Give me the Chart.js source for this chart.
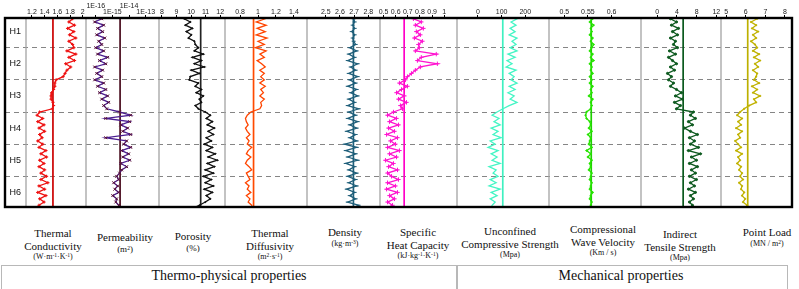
<!DOCTYPE html>
<html>
<head>
<meta charset="utf-8">
<script src="https://cdn.jsdelivr.net/npm/chart.js@4.4.0/dist/chart.umd.min.js"></script>
<style>
  body { margin: 0; background: #fff; }
  #wrap { position: relative; width: 799px; height: 289px; overflow: hidden; background: #fff; }
  #logs { position: absolute; left: 0; top: 0; }
  .lbl { position: absolute; transform: translateX(-50%); text-align: center; white-space: nowrap;
         font-family: 'Liberation Serif', 'Times New Roman', serif; font-size: 11px; line-height: 12.5px; color: #111; }
  .lbl .u { font-size: 8px; line-height: 10px; display: block; }
  .lbl sup { font-size: 5.5px; vertical-align: 2px; line-height: 0; }
  .box { position: absolute; top: 265px; height: 23px; border: 1px solid #b8b8b8; }
  .group { position: absolute; top: 268px; transform: translateX(-50%); white-space: nowrap;
           font-family: 'Liberation Serif', 'Times New Roman', serif; font-size: 14px; color: #111; }
</style>
</head>
<body>
<div id="wrap">
  <canvas id="logs" width="799" height="212"></canvas>

  <div class="lbl" style="left:53px;top:227px">Thermal<br>Conductivity<span class="u">(W·m<sup>-1</sup>·K<sup>-1</sup>)</span></div>
  <div class="lbl" style="left:125px;top:231px">Permeability<span class="u" style="font-size:9px">(m<sup>2</sup>)</span></div>
  <div class="lbl" style="left:193px;top:230px">Porosity<span class="u" style="font-size:9px">(%)</span></div>
  <div class="lbl" style="left:270px;top:227px">Thermal<br>Diffusivity<span class="u">(m<sup>2</sup>·s<sup>-1</sup>)</span></div>
  <div class="lbl" style="left:345px;top:226px">Density<span class="u">(kg·m<sup>-3</sup>)</span></div>
  <div class="lbl" style="left:418px;top:226px">Specific<br>Heat Capacity<span class="u">(kJ·kg<sup>-1</sup>·K<sup>-1</sup>)</span></div>
  <div class="lbl" style="left:510px;top:225px">Unconfined<br>Compressive Strength<span class="u">(Mpa)</span></div>
  <div class="lbl" style="left:603px;top:223px">Compressional<br>Wave Velocity<span class="u">(Km / s)</span></div>
  <div class="lbl" style="left:680px;top:228px">Indirect<br>Tensile Strength<span class="u">(Mpa)</span></div>
  <div class="lbl" style="left:767px;top:226px">Point Load<span class="u">(MN / m<sup>2</sup>)</span></div>

  <div class="box" style="left:1px;width:455px"></div>
  <div class="box" style="left:456px;width:330px"></div>
  <div class="group" style="left:229px">Thermo-physical properties</div>
  <div class="group" style="left:621px">Mechanical properties</div>
</div>

<script>
// depth of each sample (0 = top of H1, 6 = bottom of H6)
const DEPTH = [0.0, 0.1, 0.2, 0.3, 0.4, 0.5, 0.6, 0.7, 0.8, 0.9,
  1.0, 1.1, 1.2, 1.3, 1.4, 1.5, 1.6, 1.7, 1.8, 1.9,
  2.0, 2.1, 2.2, 2.3, 2.4, 2.5, 2.6, 2.7, 2.8, 2.9,
  3.0, 3.1, 3.2, 3.3, 3.4, 3.5, 3.6, 3.7, 3.8, 3.9,
  4.0, 4.1, 4.2, 4.3, 4.4, 4.5, 4.6, 4.7, 4.8, 4.9,
  5.0, 5.1, 5.2, 5.3, 5.4, 5.5, 5.6, 5.7, 5.8, 5.9, 6.0];
const ROW_LABELS = ['H1', 'H2', 'H3', 'H4', 'H5', 'H6'];
const ROW_EDGES = [1, 2, 3, 4, 5];

const THERMAL_CONDUCTIVITY = [1.81, 1.84, 1.78, 1.87, 1.76, 1.86, 1.79, 1.89, 1.78, 1.84,
  1.86, 1.75, 1.89, 1.78, 1.87, 1.73, 1.81, 1.75, 1.72, 1.69,
  1.58, 1.56, 1.56, 1.54, 1.51, 1.50, 1.50, 1.53, 1.54, 1.52,
  1.32, 1.28, 1.37, 1.29, 1.39, 1.31, 1.40, 1.32, 1.36, 1.29,
  1.37, 1.31, 1.42, 1.34, 1.43, 1.32, 1.39, 1.31, 1.40, 1.34,
  1.43, 1.34, 1.45, 1.31, 1.40, 1.29, 1.42, 1.32, 1.39, 1.31, 1.32];
const PERMEABILITY = [1.0e-16, 2.3e-16, 8.7e-17, 3.0e-16, 1.3e-16, 2.6e-16, 1.15e-16, 3.5e-16, 1.5e-16, 2.3e-16,
  1.0e-16, 3.0e-16, 1.3e-16, 5.2e-16, 1.7e-16, 4.0e-16, 8.7e-17, 2.6e-16, 1.15e-16, 2.3e-16,
  8.7e-17, 3.0e-16, 1.3e-16, 4.0e-16, 1.7e-16, 5.2e-16, 2.3e-16, 6.0e-16, 3.0e-16, 4.6e-16,
  2.7e-15, 1.26e-14, 4.0e-16, 1.1e-14, 3.2e-15, 8.3e-15, 4.2e-15, 1.26e-14, 4.0e-16, 7.2e-15,
  4.8e-15, 1.26e-14, 3.6e-15, 9.5e-15, 4.2e-15, 1.1e-14, 3.2e-15, 7.2e-15, 3.6e-15, 2.7e-15,
  1.8e-15, 2.4e-15, 1.2e-15, 2.1e-15, 1.4e-15, 2.4e-15, 1.05e-15, 1.8e-15, 1.6e-15, 2.4e-15, 2.4e-15];
const POROSITY = [9.75, 9.54, 9.95, 9.61, 10.09, 9.68, 10.02, 9.82, 10.23, 10.29,
  10.50, 10.23, 10.84, 10.09, 10.71, 10.23, 10.91, 10.02, 10.57, 9.95,
  9.88, 10.50, 10.29, 10.71, 10.36, 10.84, 10.57, 10.71, 10.29, 10.50,
  10.98, 11.32, 11.05, 11.46, 11.12, 11.60, 11.18, 11.53, 11.05, 11.39,
  10.91, 11.46, 11.05, 11.66, 11.18, 11.80, 11.12, 11.60, 10.98, 11.53,
  10.84, 11.39, 10.98, 11.53, 10.91, 11.46, 11.05, 11.32, 10.98, 10.57, 10.09];
const THERMAL_DIFFUSIVITY = [1.00, 1.08, 0.98, 1.09, 0.99, 1.08, 0.98, 1.10, 1.00, 1.07,
  0.97, 1.09, 1.02, 1.07, 0.99, 1.04, 1.08, 1.02, 1.07, 1.03,
  1.07, 1.02, 1.08, 1.03, 1.06, 1.02, 1.07, 1.03, 1.04, 1.02,
  0.92, 0.88, 0.86, 0.87, 0.89, 0.86, 0.88, 0.91, 0.87, 0.90,
  0.88, 0.93, 0.89, 0.87, 0.92, 0.88, 0.86, 0.90, 0.93, 0.87,
  0.89, 0.91, 0.86, 0.90, 0.88, 0.92, 0.87, 0.91, 0.89, 0.93, 0.93];
const DENSITY = [2.613, 2.697, 2.704, 2.690, 2.704, 2.683, 2.704, 2.690, 2.697, 2.711,
  2.669, 2.718, 2.662, 2.704, 2.655, 2.725, 2.676, 2.711, 2.662, 2.725,
  2.669, 2.711, 2.655, 2.718, 2.676, 2.725, 2.662, 2.704, 2.655, 2.732,
  2.662, 2.711, 2.655, 2.725, 2.669, 2.718, 2.648, 2.711, 2.669, 2.718,
  2.634, 2.718, 2.641, 2.711, 2.655, 2.725, 2.641, 2.704, 2.662, 2.718,
  2.655, 2.711, 2.662, 2.718, 2.648, 2.704, 2.669, 2.711, 2.655, 2.732, 2.697];
const SPECIFIC_HEAT = [0.779, 0.746, 0.811, 0.762, 0.828, 0.770, 0.803, 0.754, 0.820, 0.787,
  0.795, 0.762, 0.934, 0.811, 0.779, 0.943, 0.803, 0.762, 0.730, 0.697,
  0.680, 0.631, 0.697, 0.648, 0.607, 0.672, 0.623, 0.689, 0.639, 0.656,
  0.582, 0.533, 0.607, 0.549, 0.623, 0.541, 0.590, 0.525, 0.615, 0.557,
  0.598, 0.533, 0.631, 0.549, 0.607, 0.516, 0.582, 0.541, 0.615, 0.533,
  0.566, 0.623, 0.533, 0.598, 0.525, 0.615, 0.549, 0.590, 0.533, 0.574, 0.541];
const UCS = [153, 165, 140, 161, 136, 157, 132, 165, 144, 161,
  136, 165, 127, 157, 123, 144, 119, 161, 132, 153,
  140, 165, 132, 157, 127, 153, 136, 165, 132, 106,
  81, 60, 89, 68, 94, 56, 85, 64, 98, 52,
  73, 43, 85, 56, 81, 60, 94, 47, 77, 64,
  85, 52, 77, 47, 94, 56, 81, 52, 73, 60, 56];
const WAVE_VELOCITY = [0.556, 0.560, 0.554, 0.562, 0.556, 0.558, 0.554, 0.560, 0.556, 0.562,
  0.558, 0.554, 0.560, 0.556, 0.562, 0.554, 0.558, 0.556, 0.560, 0.554,
  0.558, 0.554, 0.560, 0.556, 0.558, 0.552, 0.560, 0.556, 0.558, 0.556,
  0.547, 0.545, 0.547, 0.554, 0.556, 0.552, 0.558, 0.550, 0.556, 0.554,
  0.552, 0.558, 0.547, 0.556, 0.550, 0.558, 0.554, 0.556, 0.552, 0.558,
  0.556, 0.554, 0.558, 0.556, 0.554, 0.560, 0.556, 0.554, 0.558, 0.556, 0.558];
const TENSILE_STRENGTH = [3.30, 2.69, 3.91, 2.89, 4.31, 3.10, 4.11, 2.69, 3.70, 3.30,
  4.11, 2.49, 3.70, 2.29, 3.10, 3.91, 2.69, 3.50, 2.09, 2.89,
  2.29, 3.30, 2.69, 3.91, 4.92, 3.70, 5.12, 3.50, 4.72, 3.91,
  7.35, 6.74, 7.75, 6.34, 7.15, 5.53, 6.74, 8.16, 6.54, 7.55,
  6.74, 8.36, 6.34, 8.77, 6.94, 7.96, 6.54, 8.16, 6.94, 7.75,
  6.54, 7.96, 6.74, 7.55, 6.34, 7.75, 6.74, 7.35, 6.54, 7.15, 6.74];
const POINT_LOAD = [6.37, 6.58, 6.27, 6.53, 6.32, 6.63, 6.37, 6.53, 6.27, 6.47,
  6.58, 6.37, 6.68, 6.42, 6.73, 6.47, 6.63, 6.37, 6.58, 6.53,
  6.42, 6.68, 6.32, 6.58, 6.37, 6.73, 6.42, 6.53, 6.17, 5.92,
  5.71, 5.56, 5.81, 5.61, 5.76, 5.51, 5.81, 5.61, 5.71, 5.46,
  5.61, 5.76, 5.51, 5.81, 5.61, 5.71, 5.56, 5.76, 5.66, 5.81,
  5.71, 5.86, 5.66, 5.81, 5.76, 5.92, 5.81, 5.97, 5.86, 6.07, 5.92];

// average of each log (the straight vertical line)
const MEANS = [1.53, 2.9e-15, 10.66, 0.95, 2.695, 0.67, 105, 0.557, 5.26, 6.10];

const TICKS_TC = [1.2, 1.4, 1.6, 1.8, 2];
const TICKS_PERM = [1e-16, 1e-15, 1e-14, 1e-13];
const TICKS_POR = [8, 9, 10, 11, 12];
const TICKS_TD = [0.8, 1, 1.2, 1.4];
const TICKS_DEN = [2.5, 2.6, 2.7, 2.8];
const TICKS_SHC = [0.5, 0.6, 0.7, 0.8, 0.9, 1];
const TICKS_UCS = [0, 100, 200];
const TICKS_CWV = [0.5, 0.55, 0.6];
const TICKS_ITS = [0, 4, 8, 12];
const TICKS_PL = [5, 6, 7, 8];

const PANELS = [
  { id: 'xTC',   values: THERMAL_CONDUCTIVITY, ticks: TICKS_TC,   min: 1.1,    max: 2.05,   w: 60.6, color: '#ee1111', mean: '#cc0000', pt: 'cross', r: 1.6 },
  { id: 'xPERM', values: PERMEABILITY,         ticks: TICKS_PERM, min: 2.6e-17, max: 6.4e-13, w: 73.4, color: '#4b1d8f', mean: '#4a0d1e', pt: 'crossRot', r: 2, ptColor: '#5a1030', log: true },
  { id: 'xPOR',  values: POROSITY,             ticks: TICKS_POR,  min: 7.81,   max: 12.36,  w: 66.6, color: '#111111', mean: '#222222', pt: 'circle', r: 0.6 },
  { id: 'xTD',   values: THERMAL_DIFFUSIVITY,  ticks: TICKS_TD,   min: 0.637,  max: 1.544,  w: 81.7, color: '#ff4500', mean: '#ff4a00', pt: 'circle', r: 0 },
  { id: 'xDEN',  values: DENSITY,              ticks: TICKS_DEN,  min: 2.366,  max: 2.882,  w: 73.3, color: '#1f5f7a', mean: '#1f5f7a', pt: 'line', r: 2 },
  { id: 'xSHC',  values: SPECIFIC_HEAT,        ticks: TICKS_SHC,  min: 0.47,   max: 1.107,  w: 77.7, color: '#ff14d0', mean: '#ff00c8', pt: 'cross', r: 2.2 },
  { id: 'xUCS',  values: UCS,                  ticks: TICKS_UCS,  min: -87,    max: 301,    w: 92.3, color: '#45f5c5', mean: '#3ff0c0', pt: 'circle', r: 0 },
  { id: 'xCWV',  values: WAVE_VELOCITY,        ticks: TICKS_CWV,  min: 0.468,  max: 0.663,  w: 92.4, color: '#27e400', mean: '#1ed000', pt: 'cross', r: 1.2 },
  { id: 'xITS',  values: TENSILE_STRENGTH,     ticks: TICKS_ITS,  min: -3.24,  max: 13.0,   w: 80.3, color: '#0d5a1f', mean: '#0b5a1e', pt: 'circle', r: 1.1 },
  { id: 'xPL',   values: POINT_LOAD,           ticks: TICKS_PL,   min: 4.75,   max: 8.36,   w: 71.0, color: '#c0b200', mean: '#bdb000', pt: 'cross', r: 1.1 }
];

const AXIS_H = 15;
const fitTop = s => { s.height = AXIS_H; s.paddingLeft = 0; s.paddingRight = 0; s.paddingTop = 0; s.paddingBottom = 0; };

const scales = {
  y: {
    type: 'linear', axis: 'y', position: 'left', reverse: true, min: 0.077, max: 5.954,
    afterBuildTicks: s => { s.ticks = ROW_EDGES.map(v => ({ value: v })); },
    afterFit: s => { s.width = 0; },
    ticks: { display: false },
    grid: { color: '#858585', lineWidth: 1, drawTicks: false },
    border: { display: false, dash: [5, 4] }
  },
  xH: {
    type: 'linear', axis: 'x', position: 'top', stack: 'logs', stackWeight: 20.7, weight: 100,
    min: 0, max: 1, afterFit: fitTop,
    ticks: { display: false }, grid: { display: false }, border: { display: false }
  }
};

const datasets = [];
PANELS.forEach((p, i) => {
  scales[p.id] = {
    type: p.log ? 'logarithmic' : 'linear', axis: 'x', position: 'top',
    stack: 'logs', stackWeight: p.w, weight: 99 - i,
    min: p.min, max: p.max,
    afterBuildTicks: s => { s.ticks = p.ticks.map(v => ({ value: v })); },
    afterFit: fitTop,
    ticks: {
      autoSkip: false, maxRotation: 0, minRotation: 0, padding: 0, color: '#222',
      font: { family: '"Liberation Sans", Arial, sans-serif', size: 7, lineHeight: '6px' },
      callback: p.log
        ? (v, idx) => { const t = Number(v).toExponential(0).toUpperCase(); return idx % 2 === 0 ? [t, ''] : t; }
        : v => String(v)
    },
    grid: { display: true, drawOnChartArea: false, drawTicks: true, tickLength: 3, tickColor: '#000', color: '#000' },
    border: { display: false }
  };

  datasets.push({
    xAxisID: p.id, yAxisID: 'y',
    data: p.values.map((v, k) => ({ x: v, y: DEPTH[k] })),
    borderColor: p.color, borderWidth: 1.3, tension: 0,
    pointStyle: p.pt, pointRadius: p.r, pointBorderWidth: 1,
    pointBorderColor: p.ptColor || p.color, pointBackgroundColor: p.ptColor || p.color
  });
  datasets.push({
    xAxisID: p.id, yAxisID: 'y',
    data: [{ x: MEANS[i], y: DEPTH[0] }, { x: MEANS[i], y: DEPTH[DEPTH.length - 1] }],
    borderColor: p.mean, borderWidth: 1.7, pointRadius: 0
  });
});

const framePlugin = {
  id: 'frame',
  beforeDatasetsDraw(chart) {
    const { ctx, chartArea: a, scales: sc } = chart;
    ctx.save();
    ctx.strokeStyle = '#a3a3a3';
    ctx.lineWidth = 1.3;
    PANELS.forEach(p => {
      const x = Math.round(sc[p.id].left);
      ctx.beginPath();
      ctx.moveTo(x, a.top);
      ctx.lineTo(x, a.bottom);
      ctx.stroke();
    });
    ctx.fillStyle = '#111';
    ctx.font = '9px "Liberation Sans", Arial, sans-serif';
    ctx.textAlign = 'center';
    ctx.textBaseline = 'middle';
    const hx = (sc.xH.left + sc.xH.right) / 2;
    ROW_LABELS.forEach((t, k) => ctx.fillText(t, hx, sc.y.getPixelForValue(k + 0.5)));
    ctx.restore();
  },
  afterDraw(chart) {
    const { ctx, chartArea: a } = chart;
    ctx.save();
    ctx.strokeStyle = '#000';
    ctx.lineWidth = 2.4;
    ctx.strokeRect(a.left, a.top, a.right - a.left, a.bottom - a.top);
    ctx.restore();
  }
};

new Chart(document.getElementById('logs'), {
  type: 'line',
  data: { datasets },
  options: {
    responsive: false,
    animation: false,
    indexAxis: 'y',
    events: [],
    layout: { padding: { left: 2, right: 7, top: 3, bottom: 3 } },
    plugins: { legend: { display: false }, tooltip: { enabled: false }, title: { display: false } },
    scales
  },
  plugins: [framePlugin]
});
</script>
</body>
</html>
